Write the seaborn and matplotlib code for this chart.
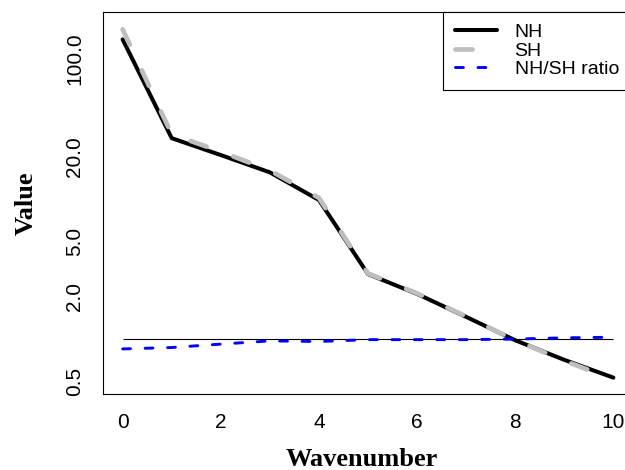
import numpy as np
import pandas as pd
import seaborn as sns
import matplotlib
matplotlib.use("Agg")
import matplotlib.pyplot as plt

# ---- data ----
wavenumber = [0, 1, 2, 3, 4, 5, 6, 7, 8, 9, 10]
nh = [138, 27.2, 20.6, 15.5, 9.84, 2.91, 2.10, 1.44, 0.98, 0.71, 0.53]
sh = [163, 29.0, 21.8, 16.0, 10.2, 2.94, 2.12, 1.45, 0.98, 0.70, 0.515]
ratio = [0.85, 0.87, 0.92, 0.97, 0.96, 0.99, 0.99, 0.99, 1.00, 1.02, 1.03]
series_labels = ["NH", "SH", "NH/SH ratio"]
ytick_values = [0.5, 1, 2, 5, 10, 20, 50, 100, 200]
ytick_labels = ["0.5", "", "2.0", "5.0", "", "20.0", "", "100.0", ""]
xtick_values = [0, 2, 4, 6, 8, 10]

df = pd.DataFrame({"wavenumber": wavenumber, "NH": nh, "SH": sh, "ratio": ratio})

sns.set_style("white")
plt.rcParams["font.family"] = ["Liberation Sans", "DejaVu Sans"]
plt.rcParams["text.color"] = "black"
plt.rcParams["axes.labelcolor"] = "black"
plt.rcParams["xtick.color"] = "black"
plt.rcParams["ytick.color"] = "black"

fig = plt.figure(figsize=(6.25, 4.7), dpi=100)
ax = fig.add_axes([0.1648, 0.1617, 0.848, 0.8128])
ax.set_yscale("log")

sns.lineplot(data=df, x="wavenumber", y="NH", ax=ax, color="black",
             linewidth=2.9, label=series_labels[0], solid_capstyle="round")
sns.lineplot(data=df, x="wavenumber", y="SH", ax=ax, color="#BEBEBE",
             linewidth=3.4, label=series_labels[1],
             linestyle=(0, (3.6, 6.0)), dash_capstyle="round")
ax.hlines(1, wavenumber[0], wavenumber[-1], color="black", linewidth=0.8)
sns.lineplot(data=df, x="wavenumber", y="ratio", ax=ax, color="#0000FF",
             linewidth=2.1, label=series_labels[2],
             linestyle=(0, (2.7, 5.0)), dash_capstyle="round")

ax.set_xlim(-0.4, 10.4)
ax.set_ylim(0.405, 216.6)
ax.set_yticks(ytick_values)
ax.set_yticklabels(ytick_labels)
ax.yaxis.set_minor_locator(matplotlib.ticker.NullLocator())
ax.set_xticks(xtick_values)
ax.set_xticklabels([str(v) for v in xtick_values])

for lab in ax.get_yticklabels():
    lab.set_rotation(90)
    lab.set_verticalalignment("center")
    lab.set_horizontalalignment("right")

ax.tick_params(axis="both", which="major", direction="out", length=6.5,
               width=0.8, color="black", labelsize=15, labelcolor="black")
ax.tick_params(axis="y", pad=7.0)
ax.tick_params(axis="x", pad=7)

for sp in ax.spines.values():
    sp.set_visible(True)
    sp.set_color("black")
    sp.set_linewidth(0.8)

ax.set_xlabel("Wavenumber", fontsize=19, fontweight="bold", color="black",
              family=["Liberation Serif", "DejaVu Serif"])
ax.set_ylabel("Value", fontsize=19, fontweight="bold", color="black",
              family=["Liberation Serif", "DejaVu Serif"])
ax.xaxis.set_label_coords(0.488, -0.172)
ax.xaxis.label.set_verticalalignment("center")
ax.yaxis.set_label_coords(-0.1453, 0.5)
ax.yaxis.label.set_verticalalignment("center")

leg_x0 = (443 - 103) / 530.0
leg = ax.legend(loc="upper left", bbox_to_anchor=(leg_x0, 0, 1.05 - leg_x0, 1),
                mode="expand", borderaxespad=0,
                fancybox=False, frameon=True, fontsize=14, handlelength=2.2,
                handletextpad=0.88, labelspacing=0.04, borderpad=0.6)
leg.get_frame().set_edgecolor("none")
leg.get_frame().set_facecolor("white")
leg.get_frame().set_alpha(1)
for t in leg.get_texts():
    t.set_color("black")

# legend frame: top, left and bottom edges (right edge lies outside the figure)
fig.canvas.draw()
lb = leg.get_window_extent().transformed(ax.transAxes.inverted())
ax.plot([1.05, lb.x0, lb.x0, 1.05], [1.0, 1.0, lb.y0, lb.y0],
        transform=ax.transAxes, clip_on=False, color="black",
        linewidth=0.8, zorder=6)

fig.savefig("out.png", dpi=100)
